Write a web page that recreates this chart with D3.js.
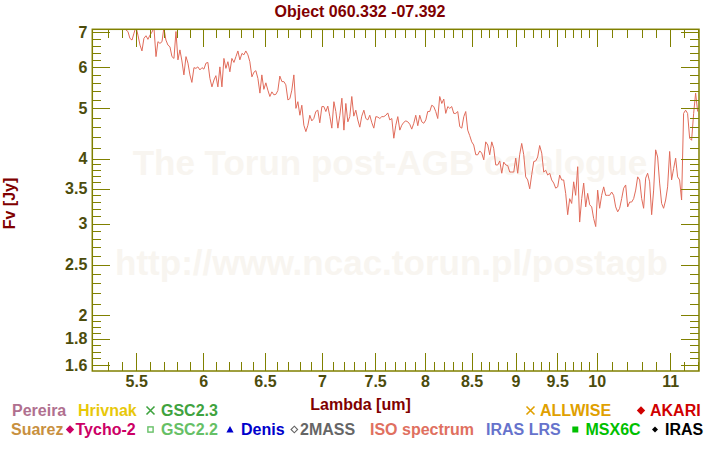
<!DOCTYPE html>
<html><head><meta charset="utf-8">
<script src="https://cdn.jsdelivr.net/npm/d3@7"></script>
<style>
html,body{margin:0;padding:0;background:#fff;}
svg{display:block;font-family:"Liberation Sans",Arial,Helvetica,sans-serif;font-weight:bold;}
</style></head><body>
<svg id="chart" width="720" height="450"></svg>
<script>
// ISO spectrum: wavelength (um) and flux (Jy)
const wavelength = [5.399,5.427,5.441,5.455,5.470,5.484,5.498,5.512,5.527,5.541,5.555,5.570,5.584,5.599,5.613,5.628,5.643,5.657,5.672,5.687,5.701,5.716,5.731,5.746,5.761,5.776,5.791,5.806,5.821,5.836,5.851,5.867,5.882,5.897,5.912,5.928,5.943,5.958,5.974,5.990,6.005,6.021,6.036,6.052,6.068,6.084,6.099,6.115,6.131,6.147,6.163,6.179,6.195,6.211,6.227,6.244,6.260,6.276,6.292,6.309,6.325,6.341,6.358,
6.374,6.391,6.408,6.424,6.441,6.458,6.474,6.491,6.508,6.525,6.542,6.559,6.576,6.593,6.610,6.627,6.645,6.662,6.679,6.697,6.714,6.731,6.749,6.767,6.784,
6.802,6.819,6.837,6.855,6.873,6.890,6.908,6.926,6.944,6.962,6.980,6.999,7.017,7.035,7.053,7.072,7.090,7.109,7.127,7.146,7.164,7.183,7.202,7.220,7.239,
7.257,7.276,7.295,7.314,7.333,7.352,7.371,7.391,7.410,7.429,7.448,7.468,7.487,7.507,7.526,7.546,7.565,7.585,7.605,7.624,7.644,7.664,7.684,7.704,7.724,
7.744,7.764,7.784,7.805,7.825,7.845,7.865,7.886,7.906,7.927,7.947,7.968,7.989,8.010,8.030,8.051,8.072,8.093,8.114,8.135,8.156,8.178,8.199,8.220,8.242,
8.263,8.284,8.306,8.328,8.349,8.371,8.393,8.415,8.436,8.458,8.480,8.502,8.524,8.547,8.569,8.591,8.613,8.636,8.658,8.681,8.703,8.726,8.748,8.771,8.794,
8.817,8.840,8.863,8.886,8.909,8.932,8.955,8.979,9.002,9.025,9.048,9.072,9.096,9.119,9.143,9.167,9.191,9.215,9.239,9.262,9.286,9.311,9.335,9.359,9.383,
9.408,9.432,9.457,9.481,9.506,9.530,9.555,9.580,9.605,9.630,9.655,9.680,9.705,9.730,9.756,9.781,9.807,9.832,9.858,9.883,9.909,9.935,9.960,9.987,10.012,
10.038,10.064,10.091,10.117,10.143,10.169,10.196,10.222,10.249,10.276,10.302,10.329,10.356,10.383,10.410,10.437,10.464,10.491,10.519,10.546,10.573,10.601,10.628,10.656,10.683,
10.711,10.739,10.767,10.795,10.823,10.851,10.879,10.907,10.936,10.964,10.993,11.021,11.050,11.079,11.107,11.136,11.165,11.194,11.223,11.252,11.282,11.311,11.341,11.370,11.400];

const isoFlux = [7.35,7.08,7.03,6.82,6.77,6.98,7.18,6.92,6.62,6.45,6.82,6.90,6.79,6.92,7.01,7.15,6.29,6.72,6.67,6.72,7.15,6.77,6.62,6.57,6.29,6.24,7.03,6.20,6.48,6.17,5.80,6.29,6.11,5.80,5.61,5.99,5.97,6.01,5.93,5.99,5.95,6.11,6.13,5.71,5.50,5.67,5.78,5.50,6.01,5.50,6.24,5.97,6.15,5.88,6.24,6.13,6.29,6.45,6.20,6.38,6.34,6.45,6.34,
6.15,5.75,5.87,5.91,5.71,5.35,5.80,5.44,5.60,5.42,5.27,5.38,5.31,5.32,5.41,5.77,5.63,5.63,5.55,5.19,5.22,5.42,5.80,5.00,5.15,
4.85,5.07,4.64,4.51,4.64,4.85,4.73,4.78,4.93,4.96,4.69,5.04,5.04,4.93,5.05,4.82,4.58,5.15,4.93,4.58,4.85,5.23,4.54,5.11,4.71,
4.82,5.27,4.83,4.96,4.75,4.60,4.83,4.96,4.78,4.75,4.85,4.69,4.58,4.82,4.81,4.78,4.82,4.82,4.85,4.90,4.75,4.78,4.38,4.64,4.82,
4.54,4.64,4.70,4.73,4.71,4.66,4.56,4.68,4.85,4.63,4.85,4.71,4.68,4.75,4.93,4.93,5.07,5.04,4.93,4.78,5.27,5.11,5.21,4.89,5.04,
5.00,5.04,4.89,4.89,4.93,4.61,4.58,4.82,4.93,4.54,4.43,4.31,4.25,4.07,4.07,4.14,4.10,3.98,4.31,4.25,4.07,4.31,4.19,3.89,3.89,
3.96,3.75,3.94,3.89,3.88,3.77,3.77,3.77,4.01,3.75,4.07,4.28,4.07,3.69,3.64,3.50,3.73,3.95,3.96,4.03,4.24,4.10,3.77,3.80,3.72,
3.75,3.64,3.59,3.51,3.53,3.72,3.64,3.64,3.43,3.12,3.35,3.28,3.61,3.40,3.86,3.02,3.35,3.59,3.23,3.43,3.26,3.23,3.07,2.96,3.48,
3.21,3.40,3.53,3.40,3.40,3.40,3.45,3.40,3.23,3.16,3.21,3.35,3.51,3.56,3.23,3.30,3.30,3.35,3.48,3.69,3.64,3.35,3.21,3.67,3.75,
3.61,3.12,3.48,4.16,4.03,3.59,3.28,3.21,3.33,3.53,4.13,3.64,3.83,4.01,3.69,3.64,3.33,4.89,4.96,4.89,4.38,4.34,4.89,5.35,4.93];

const xMajorTicks = [5.5,6,6.5,7,7.5,8,8.5,9,9.5,10,11];
const xMinorTicks = [5.3,5.4,5.6,5.7,5.8,5.9,6.1,6.2,6.3,6.4,6.6,6.7,6.8,6.9,7.1,7.2,7.3,7.4,7.6,7.7,7.8,7.9,8.1,8.2,8.3,8.4,8.6,8.7,8.8,8.9,9.1,9.2,9.3,9.4,9.6,9.7,9.8,9.9,10.2,10.4,10.6,10.8,11.2,11.4];
const yMajorTicks = [1.6,1.8,2,2.5,3,3.5,4,5,6,7];
const yMinorTicks = [1.65,1.7,1.75,1.85,1.9,1.95,2.1,2.2,2.3,2.4,2.6,2.7,2.8,2.9,3.1,3.2,3.3,3.4,3.6,3.7,3.8,3.9,4.2,4.4,4.6,4.8,5.2,5.4,5.6,5.8,6.2,6.4,6.6,6.8];

const legendNames  = ["Pereira","Hrivnak","GSC2.3","ALLWISE","AKARI","Suarez","Tycho-2","GSC2.2","Denis","2MASS","ISO spectrum","IRAS LRS","MSX6C","IRAS"];
const legendColors = ["#b0708f","#e8c80a","#3fa33f","#e0a000","#d00000","#c89040","#cc0066","#66c066","#0000cc","#666666","#e07060","#6673cc","#00c000","#000000"];
const legendMarks  = [null,null,"x","x","diamond",null,"diamond","squareOpen","triangle","diamondOpen",null,null,"square","diamondSmall"];

// layout (not data)
const legendLayout = [
  {row:0,tx:12,mx:null},{row:0,tx:78,mx:null},{row:0,tx:161,mx:150.5},{row:0,tx:540,mx:530.5},{row:0,tx:650,mx:641},
  {row:1,tx:11,mx:null},{row:1,tx:75.5,mx:70},{row:1,tx:161,mx:150.5},{row:1,tx:241,mx:230},{row:1,tx:300,mx:294.3},
  {row:1,tx:370,mx:null},{row:1,tx:486,mx:null},{row:1,tx:585.5,mx:575.3},{row:1,tx:665,mx:655}
];

const L = 92.3, R = 699, T = 29.3, B = 371;
const olive = "#808000", tickText = "#4c4c0c", darkRed = "#800000";

const svg = d3.select("#chart");
const x = d3.scaleLog().domain([5.195, 11.42]).range([L, R]);
const y = d3.scaleLog().domain([1.56, 7.10]).range([B, T]);

// watermark
const wm = svg.append("g").attr("fill","#f8f5f0").attr("font-size",35).attr("text-anchor","middle");
wm.append("text").attr("x",390).attr("y",175).text("The Torun post-AGB catalogue");
wm.append("text").attr("x",391.5).attr("y",275).text("http://www.ncac.torun.pl/postagb");

// clip
svg.append("clipPath").attr("id","plotclip").append("rect")
  .attr("x",L).attr("y",T).attr("width",R-L).attr("height",B-T);

const pts = wavelength.map((w,i)=>[w,isoFlux[i]]).filter(d=>d[1]!=null);
svg.append("path").datum(pts)
  .attr("clip-path","url(#plotclip)")
  .attr("fill","none").attr("stroke","#e06b5a").attr("stroke-width",1)
  .attr("d", d3.line().x(d=>x(d[0])).y(d=>y(d[1])));

function styleAxis(g, withText){
  g.select(".domain").remove();
  g.selectAll(".tick line").attr("stroke",olive).attr("stroke-width",1).attr("shape-rendering","crispEdges");
  if(withText){
    g.selectAll(".tick text").attr("fill",tickText).attr("font-size",16)
      .attr("font-family",'"Liberation Sans",Arial,sans-serif').attr("font-weight","bold");
  } else {
    g.selectAll(".tick text").remove();
  }
}
const fmt = d=>String(d);
// bottom
svg.append("g").attr("transform",`translate(0,${B})`)
  .call(d3.axisBottom(x).tickValues(xMajorTicks).tickSize(-18).tickPadding(5).tickFormat(fmt)).call(g=>styleAxis(g,true));
svg.append("g").attr("transform",`translate(0,${B})`)
  .call(d3.axisBottom(x).tickValues(xMinorTicks).tickSize(-9).tickFormat("")).call(g=>styleAxis(g,false));
// top
svg.append("g").attr("transform",`translate(0,${T})`)
  .call(d3.axisTop(x).tickValues(xMajorTicks).tickSize(-18).tickFormat("")).call(g=>styleAxis(g,false));
svg.append("g").attr("transform",`translate(0,${T})`)
  .call(d3.axisTop(x).tickValues(xMinorTicks).tickSize(-9).tickFormat("")).call(g=>styleAxis(g,false));
// left
svg.append("g").attr("transform",`translate(${L},0)`)
  .call(d3.axisLeft(y).tickValues(yMajorTicks).tickSize(-18).tickPadding(5).tickFormat(fmt)).call(g=>styleAxis(g,true));
svg.append("g").attr("transform",`translate(${L},0)`)
  .call(d3.axisLeft(y).tickValues(yMinorTicks).tickSize(-9).tickFormat("")).call(g=>styleAxis(g,false));
// right
svg.append("g").attr("transform",`translate(${R},0)`)
  .call(d3.axisRight(y).tickValues(yMajorTicks).tickSize(-18).tickFormat("")).call(g=>styleAxis(g,false));
svg.append("g").attr("transform",`translate(${R},0)`)
  .call(d3.axisRight(y).tickValues(yMinorTicks).tickSize(-9).tickFormat("")).call(g=>styleAxis(g,false));

// frame
svg.append("rect").attr("x",L).attr("y",T).attr("width",R-L).attr("height",B-T)
  .attr("fill","none").attr("stroke",olive).attr("stroke-width",1.5);

// title & axis labels
svg.append("text").attr("x",360).attr("y",17).attr("text-anchor","middle")
  .attr("fill",darkRed).attr("font-size",16).text("Object 060.332 -07.392");
svg.append("text").attr("x",360.5).attr("y",409.5).attr("text-anchor","middle")
  .attr("fill",darkRed).attr("font-size",16).text("Lambda [um]");
svg.append("text").attr("transform","translate(14.7,203.5) rotate(-90)").attr("text-anchor","middle")
  .attr("fill",darkRed).attr("font-size",16).text("Fv [Jy]");

// legend
const rowBase = [416, 435];
const rowMid = [410.5, 429.5];
function marker(g, type, cx, cy, color){
  let s;
  switch(type){
    case "x": s=4;
      g.append("path").attr("d",`M${cx-s},${cy-s}L${cx+s},${cy+s}M${cx-s},${cy+s}L${cx+s},${cy-s}`)
        .attr("stroke",color).attr("stroke-width",1.6).attr("fill","none"); break;
    case "diamond": s=4.2;
      g.append("path").attr("d",`M${cx},${cy-s}L${cx+s},${cy}L${cx},${cy+s}L${cx-s},${cy}Z`).attr("fill",color); break;
    case "diamondSmall": s=3;
      g.append("path").attr("d",`M${cx},${cy-s}L${cx+s},${cy}L${cx},${cy+s}L${cx-s},${cy}Z`).attr("fill",color); break;
    case "diamondOpen": s=3.3;
      g.append("path").attr("d",`M${cx},${cy-s}L${cx+s},${cy}L${cx},${cy+s}L${cx-s},${cy}Z`)
        .attr("fill","none").attr("stroke",color).attr("stroke-width",1.1); break;
    case "squareOpen": s=2.6;
      g.append("rect").attr("x",cx-s).attr("y",cy-s).attr("width",2*s).attr("height",2*s)
        .attr("fill","none").attr("stroke",color).attr("stroke-width",1.4); break;
    case "square": s=3;
      g.append("rect").attr("x",cx-s).attr("y",cy-s).attr("width",2*s).attr("height",2*s).attr("fill",color); break;
    case "triangle": s=3.6;
      g.append("path").attr("d",`M${cx},${cy-s}L${cx+s},${cy+s*0.8}L${cx-s},${cy+s*0.8}Z`).attr("fill",color); break;
  }
}
const lg = svg.append("g").attr("font-size",16);
legendNames.forEach((name,i)=>{
  const p = legendLayout[i];
  if(legendMarks[i]) marker(lg, legendMarks[i], p.mx, rowMid[p.row], legendColors[i]);
  lg.append("text").attr("x",p.tx).attr("y",rowBase[p.row]).attr("fill",legendColors[i]).text(name);
});
</script>
</body></html>
